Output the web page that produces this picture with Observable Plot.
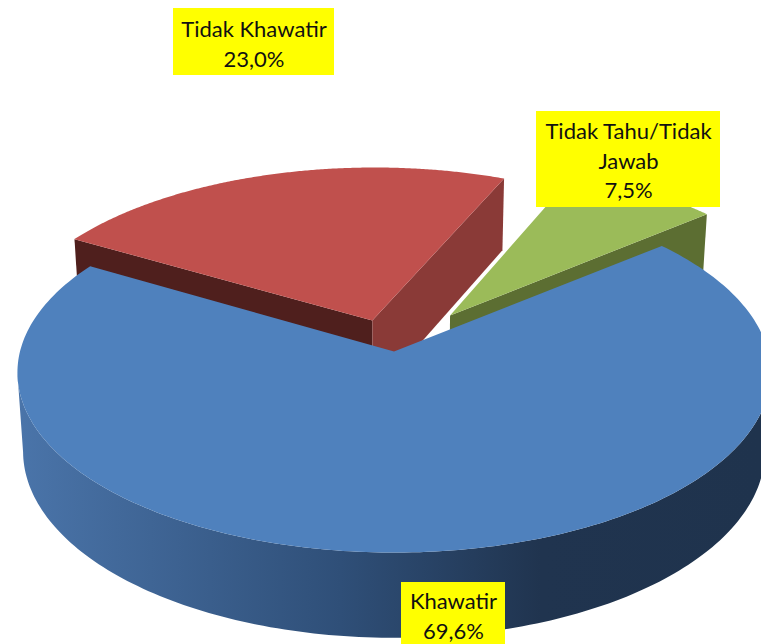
<!DOCTYPE html>
<html>
<head>
<meta charset="utf-8">
<script src="https://cdn.jsdelivr.net/npm/d3@7"></script>
<script src="https://cdn.jsdelivr.net/npm/@observablehq/plot@0.6"></script>
<style>
  html, body { margin: 0; padding: 0; background: #fff; overflow: hidden; }
  svg { display: block; }
</style>
</head>
<body>
<div id="chart"></div>
<script>
// Data
const categories = ["Khawatir", "Tidak Khawatir", "Tidak Tahu/Tidak\nJawab"];
const shares = [69.6, 23.0, 7.5];
const explosion = [0, 0.188, 0.258];
const startAngle = 50.3;
const angleNudge = [0, -0.3, -0.3];

// Styles
const topColors = ["#4F81BD", "#C0504D", "#9BBB59"];
const cutColors = {red: ["#4F1F1D", "#8A3A37"], green: "#5C6E32"};
const wallStops = [
  {at: 20, color: "#4A74A9"},
  {at: 340, color: "#2F4F78"},
  {at: 540, color: "#20344F"},
  {at: 761, color: "#1F334D"}
];

// Label boxes (layout)
const labelBoxes = [
  {x1: 401, x2: 505, y1: 582, y2: 650, tx: 453, ty: 614},
  {x1: 173, x2: 334, y1: 8, y2: 75, tx: 253.5, ty: 42},
  {x1: 536, x2: 720, y1: 111, y2: 207, tx: 628, ty: 158.5}
];

// Perspective camera for the pie
const W = 761, H = 644;
const cam = {cx: 393.5, p: -0.1167, a: 374, xDrop: 0.985,
             top: {c: 351, b: 177.6}, bottom: {c: 429, b: 184}};
function project(u, v, level) {
  const w = 1 + cam.p * v;
  const pl = cam[level];
  const s = level === "bottom" ? cam.xDrop : 1;
  return {x: cam.cx + s * cam.a * u / w, y: pl.c + pl.b * v / w};
}
const rad = d => d * Math.PI / 180;
function rimPoint(deg, o, level) {
  return project(o.u + Math.sin(rad(deg)), o.v - Math.cos(rad(deg)), level);
}

// Slice angles, from the shares
const total = d3.sum(shares);
let cursor = startAngle;
const slices = shares.map((s, i) => {
  const a0 = cursor + angleNudge[i], a1 = cursor + s / total * 360 + angleNudge[i];
  cursor += s / total * 360;
  const mid = (a0 + a1) / 2;
  const o = {u: explosion[i] * Math.sin(rad(mid)), v: -explosion[i] * Math.cos(rad(mid))};
  return {a0, a1, o, i};
});
function arc(sl, level, n = 240) {
  return d3.range(0, n + 1).map(k => rimPoint(sl.a0 + (sl.a1 - sl.a0) * k / n, sl.o, level));
}
function topFace(sl) {
  return [project(sl.o.u, sl.o.v, "top"), ...arc(sl, "top")];
}
function cutFace(sl, deg) {
  return [
    project(sl.o.u, sl.o.v, "top"),
    rimPoint(deg, sl.o, "top"),
    rimPoint(deg, sl.o, "bottom"),
    project(sl.o.u, sl.o.v, "bottom")
  ];
}
// Outer wall: the part of the rim between its right and left extremes
function wallFace(sl) {
  const t = arc(sl, "top"), b = arc(sl, "bottom");
  const i0 = d3.greatestIndex(t, d => d.x), i1 = d3.leastIndex(t, d => d.x);
  return [...t.slice(i0, i1 + 1), ...b.slice(i0, i1 + 1).reverse()];
}
const polygon = (pts, color) =>
  Plot.line(pts, {x: "x", y: "y", fill: color, stroke: "none", curve: "linear"});

// Horizontal shading of the outer wall, in the x scale's pixel space
const wallGradient = (index, scales) => {
  const ns = "http://www.w3.org/2000/svg";
  const defs = document.createElementNS(ns, "defs");
  const g = document.createElementNS(ns, "linearGradient");
  g.setAttribute("id", "wall-shade");
  g.setAttribute("gradientUnits", "userSpaceOnUse");
  g.setAttribute("x1", scales.x(0));
  g.setAttribute("x2", scales.x(W));
  g.setAttribute("y1", 0);
  g.setAttribute("y2", 0);
  for (const s of wallStops) {
    const st = document.createElementNS(ns, "stop");
    st.setAttribute("offset", s.at / W);
    st.setAttribute("stop-color", s.color);
    g.append(st);
  }
  defs.append(g);
  return defs;
};

const [blue, red, green] = slices;

const marks = [
  wallGradient,
  // green wedge
  polygon(cutFace(green, green.a1), cutColors.green),
  polygon(topFace(green), topColors[2]),
  // red wedge
  polygon(cutFace(red, red.a0), cutColors.red[0]),
  polygon(cutFace(red, red.a1), cutColors.red[1]),
  polygon(topFace(red), topColors[1]),
  // blue wedge
  polygon(wallFace(blue), "url(#wall-shade)"),
  polygon(topFace(blue), topColors[0]),
  // labels
  Plot.rect(labelBoxes, {x1: "x1", x2: "x2", y1: "y1", y2: "y2", fill: "#FFFF00"}),
  Plot.text(labelBoxes, {
    x: "tx", y: "ty",
    text: (d, i) => categories[i] + "\n" + shares[i].toFixed(1).replace(".", ",") + "%",
    fontSize: 22, lineHeight: 1.36, fill: "#111",
    fontFamily: "Lato, 'Noto Sans', sans-serif"
  })
];

document.getElementById("chart").append(Plot.plot({
  width: W, height: H,
  margin: 0,
  x: {domain: [0, W], range: [0, W], axis: null},
  y: {domain: [0, H], range: [0, H], axis: null},
  style: {background: "#fff"},
  marks
}));
</script>
</body>
</html>
